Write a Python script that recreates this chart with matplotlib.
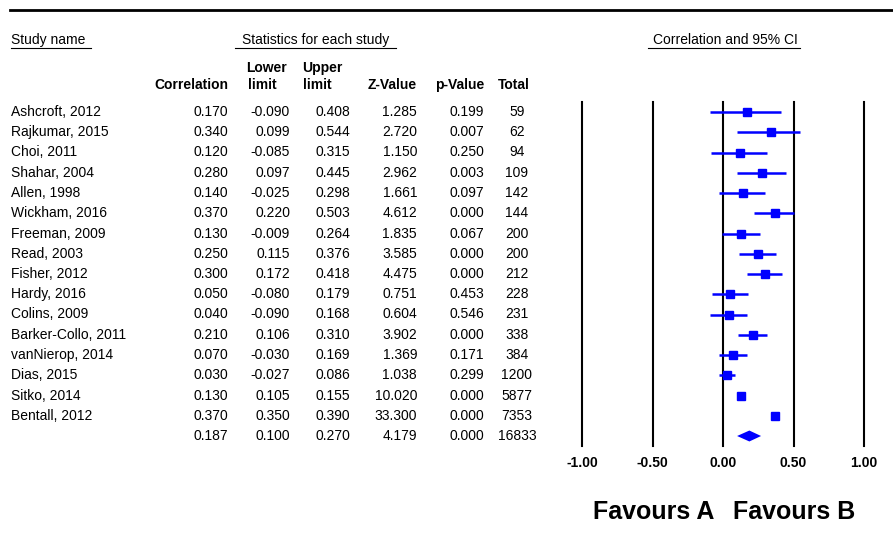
import matplotlib
matplotlib.use("Agg")
import matplotlib.pyplot as plt

plt.rcParams['font.family'] = ['Liberation Sans', 'DejaVu Sans']

# study data
studies = ["Ashcroft, 2012", "Rajkumar, 2015", "Choi, 2011", "Shahar, 2004", "Allen, 1998",
           "Wickham, 2016", "Freeman, 2009", "Read, 2003", "Fisher, 2012", "Hardy, 2016",
           "Colins, 2009", "Barker-Collo, 2011", "vanNierop, 2014", "Dias, 2015",
           "Sitko, 2014", "Bentall, 2012"]
corr = [0.170, 0.340, 0.120, 0.280, 0.140, 0.370, 0.130, 0.250, 0.300, 0.050,
        0.040, 0.210, 0.070, 0.030, 0.130, 0.370]
lower = [-0.090, 0.099, -0.085, 0.097, -0.025, 0.220, -0.009, 0.115, 0.172, -0.080,
         -0.090, 0.106, -0.030, -0.027, 0.105, 0.350]
upper = [0.408, 0.544, 0.315, 0.445, 0.298, 0.503, 0.264, 0.376, 0.418, 0.179,
         0.168, 0.310, 0.169, 0.086, 0.155, 0.390]
zval = [1.285, 2.720, 1.150, 2.962, 1.661, 4.612, 1.835, 3.585, 4.475, 0.751,
        0.604, 3.902, 1.369, 1.038, 10.020, 33.300]
pval = [0.199, 0.007, 0.250, 0.003, 0.097, 0.000, 0.067, 0.000, 0.000, 0.453,
        0.546, 0.000, 0.171, 0.299, 0.000, 0.000]
total = [59, 62, 94, 109, 142, 144, 200, 200, 212, 228, 231, 338, 384, 1200, 5877, 7353]

# pooled estimate
sum_corr, sum_lower, sum_upper = 0.187, 0.100, 0.270
sum_z, sum_p, sum_total = 4.179, 0.000, 16833

ticks = [-1.0, -0.5, 0.0, 0.5, 1.0]
blue = '#0000FF'

W, H = 893, 547
fig = plt.figure(figsize=(W / 100, H / 100), dpi=100)

# text layer in pixel units
tx = fig.add_axes([0, 0, 1, 1])
tx.set_xlim(0, W)
tx.set_ylim(H, 0)
tx.axis('off')

row0, step = 112, 20.25
fs = 10

tx.plot([10, W], [10, 10], color='black', lw=2)

tx.text(11, 40, "Study name", fontsize=fs, va='center', ha='left')
tx.plot([11, 91], [48, 48], color='black', lw=0.8)
tx.text(316, 40, "Statistics for each study", fontsize=fs, va='center', ha='center')
tx.plot([235, 396], [48, 48], color='black', lw=0.8)
tx.text(725, 40, "Correlation and 95% CI", fontsize=fs, va='center', ha='center')
tx.plot([648, 800], [48, 48], color='black', lw=0.8)

hdr = dict(fontsize=fs, fontweight='bold', va='center')
tx.text(228, 85, "Correlation", ha='right', **hdr)
tx.text(246, 68, "Lower", ha='left', **hdr)
tx.text(248, 85, "limit", ha='left', **hdr)
tx.text(302, 68, "Upper", ha='left', **hdr)
tx.text(303, 85, "limit", ha='left', **hdr)
tx.text(417, 85, "Z-Value", ha='right', **hdr)
tx.text(484, 85, "p-Value", ha='right', **hdr)
tx.text(514, 85, "Total", ha='center', **hdr)


def table_row(y, name, c, lo, hi, z, p, n):
    kw = dict(fontsize=fs, va='center')
    tx.text(11, y, name, ha='left', **kw)
    tx.text(228, y, f"{c:.3f}", ha='right', **kw)
    tx.text(290, y, f"{lo:.3f}", ha='right', **kw)
    tx.text(350, y, f"{hi:.3f}", ha='right', **kw)
    tx.text(417, y, f"{z:.3f}", ha='right', **kw)
    tx.text(484, y, f"{p:.3f}", ha='right', **kw)
    tx.text(517, y, f"{n}", ha='center', **kw)


for i in range(len(studies)):
    table_row(row0 + i * step, studies[i], corr[i], lower[i], upper[i], zval[i], pval[i], total[i])
table_row(row0 + len(studies) * step, "", sum_corr, sum_lower, sum_upper, sum_z, sum_p, sum_total)

# forest plot axes
nrows = len(studies) + 1
top_px = row0 - 0.5 * step
bot_px = row0 + (nrows - 0.5) * step
ax = fig.add_axes([582 / W, 1 - bot_px / H, (864 - 582) / W, (bot_px - top_px) / H])
ax.set_xlim(-1, 1)
ax.set_ylim(nrows - 0.5, -0.5)
for s in ax.spines.values():
    s.set_visible(False)
ax.set_yticks([])
ax.patch.set_alpha(0)

for t in ticks:
    ax.axvline(t, color='black', lw=1.5, clip_on=False)

ys = list(range(len(studies)))
ax.hlines(ys, lower, upper, color=blue, lw=1.8, clip_on=False)
ax.plot(corr, ys, 's', color=blue, ms=6.2, clip_on=False)

yd = len(studies)
ax.fill([sum_lower, sum_corr, sum_upper, sum_corr], [yd, yd - 0.27, yd, yd + 0.27],
        color=blue, lw=0)

ax.set_xticks(ticks)
ax.set_xticklabels([f"{t:.2f}" for t in ticks], fontsize=fs, fontweight='bold')
ax.tick_params(axis='x', length=0, pad=7)

tx.text(654, 512, "Favours A", fontsize=18, fontweight='bold', ha='center', va='center')
tx.text(794, 512, "Favours B", fontsize=18, fontweight='bold', ha='center', va='center')

fig.savefig("out.png", dpi=100)
